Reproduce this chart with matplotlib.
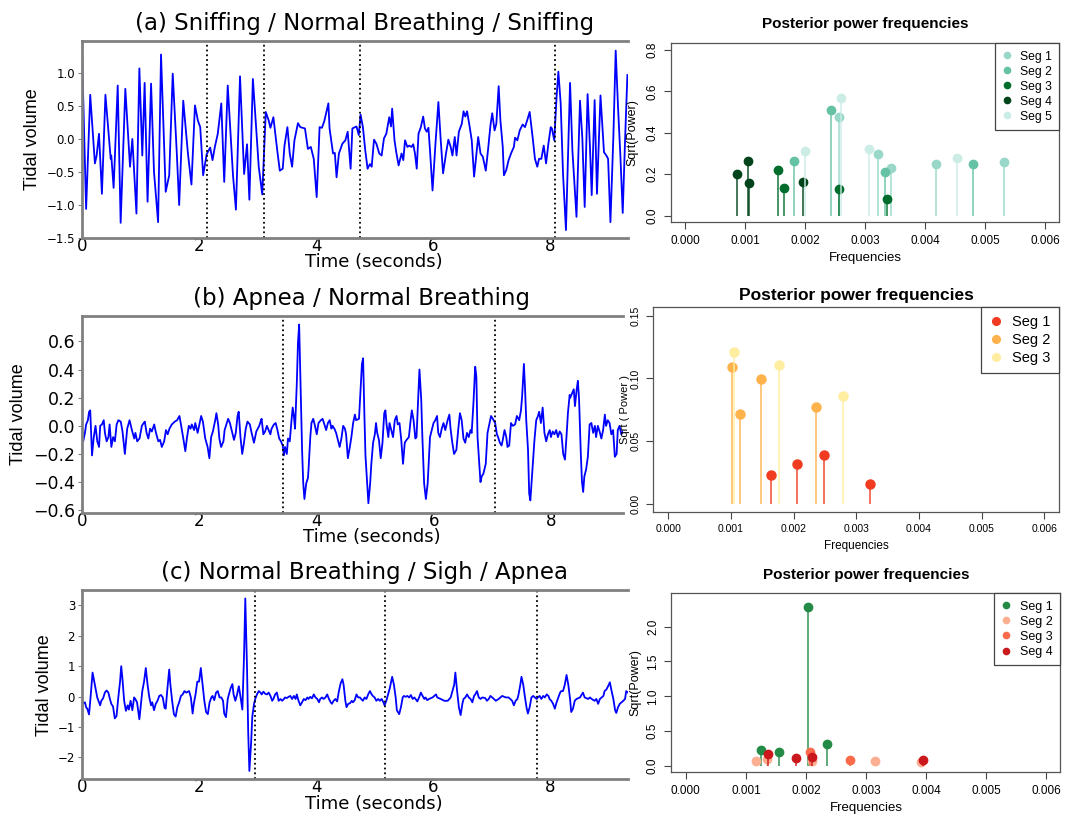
import matplotlib
matplotlib.use('Agg')
import matplotlib.pyplot as plt


# Breathing records: (time in seconds, tidal volume) at the turning points
a_trace = [
    (0.00, 1.32), (0.07, -1.06), (0.14, 0.67), (0.22, -0.37), (0.25, -0.25), (0.29, 0.08),
    (0.34, -0.83), (0.40, 0.67), (0.49, -0.30), (0.50, -0.25), (0.54, -0.74), (0.61, 0.81),
    (0.66, -1.27), (0.74, 0.76), (0.82, -0.42), (0.86, 0.00), (0.93, -1.13), (0.98, 1.07),
    (1.03, -0.25), (1.07, 0.85), (1.12, -0.95), (1.18, 0.84), (1.23, -0.50), (1.30, -1.26),
    (1.35, 1.28), (1.43, -0.80), (1.49, -0.55), (1.55, 0.99), (1.62, -0.22), (1.66, -1.00),
    (1.73, 0.58), (1.81, -0.22), (1.87, -0.69), (1.93, 0.51), (1.98, 0.28), (2.02, 0.18),
    (2.07, -0.55), (2.13, -0.23), (2.19, -0.13), (2.23, -0.32), (2.27, -0.12), (2.32, 0.08),
    (2.38, 0.54), (2.43, -0.65), (2.49, 0.81), (2.58, -0.55), (2.63, -1.07), (2.70, 0.95),
    (2.77, -0.53), (2.82, -0.08), (2.86, -0.92), (2.92, 0.91), (3.02, -0.42), (3.08, -0.84),
    (3.14, 0.41), (3.19, 0.28), (3.22, 0.17), (3.27, 0.33), (3.34, -0.20), (3.38, -0.48),
    (3.43, -0.45), (3.46, -0.10), (3.51, 0.18), (3.55, -0.22), (3.59, -0.42), (3.63, -0.02),
    (3.69, 0.24), (3.73, 0.18), (3.81, 0.16), (3.86, -0.15), (3.91, -0.12), (3.96, -0.30),
    (4.01, -0.88), (4.06, 0.18), (4.10, 0.17), (4.14, 0.27), (4.21, 0.54), (4.23, 0.16),
    (4.29, -0.22), (4.32, -0.21), (4.35, -0.58), (4.39, -0.22), (4.45, -0.07), (4.50, -0.02),
    (4.54, 0.11), (4.59, -0.45), (4.62, 0.16), (4.69, 0.19), (4.73, 0.06), (4.76, 0.37),
    (4.80, 0.18), (4.84, -0.17), (4.88, -0.45), (4.92, -0.38), (4.95, -0.42), (4.99, -0.01),
    (5.03, -0.07), (5.08, -0.22), (5.12, -0.25), (5.16, 0.01), (5.20, 0.08), (5.25, 0.33),
    (5.28, 0.19), (5.30, 0.46), (5.34, -0.02), (5.37, -0.20), (5.41, -0.40), (5.46, -0.22),
    (5.49, -0.32), (5.52, -0.02), (5.56, -0.12), (5.59, -0.10), (5.63, -0.12), (5.66, -0.08),
    (5.69, -0.22), (5.72, -0.45), (5.75, 0.08), (5.79, 0.18), (5.83, 0.34), (5.86, 0.16),
    (5.89, 0.11), (5.92, 0.17), (5.95, -0.22), (5.99, -0.78), (6.04, -0.07), (6.09, 0.56),
    (6.13, -0.02), (6.17, -0.52), (6.22, -0.22), (6.26, -0.01), (6.30, -0.12), (6.33, -0.25),
    (6.37, 0.03), (6.40, -0.25), (6.44, 0.11), (6.49, 0.23), (6.52, 0.42), (6.55, 0.34),
    (6.58, 0.42), (6.62, 0.21), (6.66, -0.02), (6.70, -0.57), (6.74, -0.22), (6.77, 0.03),
    (6.81, -0.22), (6.85, -0.27), (6.90, -0.48), (6.94, -0.15), (6.98, 0.21), (7.01, 0.39),
    (7.05, 0.13), (7.08, 0.23), (7.12, 0.80), (7.15, 0.28), (7.19, -0.12), (7.21, -0.55),
    (7.25, -0.47), (7.29, -0.32), (7.34, -0.20), (7.38, -0.12), (7.40, 0.02), (7.44, -0.02),
    (7.48, 0.13), (7.53, 0.22), (7.57, 0.18), (7.61, 0.29), (7.65, 0.41), (7.70, 0.03),
    (7.74, -0.30), (7.78, -0.42), (7.81, -0.30), (7.85, -0.30), (7.89, -0.10), (7.93, -0.37),
    (7.97, -0.07), (8.01, 0.18), (8.03, 0.16), (8.07, -0.02), (8.11, 0.64), (8.14, 1.02),
    (8.18, 0.54), (8.22, -0.53), (8.27, -1.38), (8.34, 0.85), (8.38, -0.17), (8.45, -1.18),
    (8.51, 0.58), (8.55, 0.01), (8.59, -1.03), (8.64, 0.68), (8.68, -0.12), (8.71, -0.85),
    (8.76, 0.59), (8.80, -0.83), (8.86, 0.66), (8.92, -0.20), (8.96, -0.25), (8.99, -0.30),
    (9.03, -1.26), (9.08, 0.03), (9.12, 1.34), (9.16, 0.48), (9.20, -0.25), (9.24, -1.12),
    (9.28, -0.02), (9.32, 0.97),
]

b_trace = [
    (0.00, -0.03), (0.02, -0.11), (0.05, -0.05), (0.07, 0.01), (0.10, 0.04), (0.12, 0.10),
    (0.14, 0.11), (0.17, -0.21), (0.20, -0.08), (0.23, 0.00), (0.26, -0.11), (0.29, -0.15),
    (0.31, 0.00), (0.34, 0.01), (0.37, 0.04), (0.39, -0.05), (0.42, -0.11), (0.45, -0.08),
    (0.47, 0.01), (0.50, -0.15), (0.53, -0.08), (0.56, -0.11), (0.59, 0.01), (0.62, 0.04),
    (0.66, 0.03), (0.69, -0.04), (0.73, -0.20), (0.77, -0.02), (0.81, 0.04), (0.85, -0.03),
    (0.89, -0.09), (0.91, -0.05), (0.94, -0.11), (0.98, -0.09), (1.02, 0.00), (1.05, 0.02),
    (1.07, 0.03), (1.10, -0.05), (1.13, -0.09), (1.16, -0.02), (1.19, -0.04), (1.23, 0.01),
    (1.26, -0.05), (1.30, -0.11), (1.33, -0.10), (1.36, -0.15), (1.40, -0.11), (1.43, -0.03),
    (1.46, -0.06), (1.49, -0.02), (1.53, 0.01), (1.58, 0.03), (1.62, 0.04), (1.66, 0.07),
    (1.69, 0.00), (1.73, -0.10), (1.76, -0.18), (1.79, -0.08), (1.82, 0.00), (1.85, -0.02),
    (1.87, 0.01), (1.91, -0.03), (1.93, 0.02), (1.97, -0.05), (2.00, 0.01), (2.03, 0.07),
    (2.06, 0.03), (2.10, -0.09), (2.14, -0.15), (2.17, -0.23), (2.20, -0.08), (2.23, -0.04),
    (2.27, 0.04), (2.29, 0.09), (2.32, 0.01), (2.34, -0.09), (2.37, -0.15), (2.41, -0.11),
    (2.43, -0.03), (2.46, 0.01), (2.49, 0.05), (2.52, 0.02), (2.56, -0.05), (2.59, -0.10),
    (2.62, -0.05), (2.65, 0.07), (2.67, 0.10), (2.70, -0.08), (2.73, -0.20), (2.76, -0.12),
    (2.79, -0.02), (2.82, 0.03), (2.86, 0.01), (2.89, -0.05), (2.93, -0.12), (2.97, -0.04),
    (3.02, 0.00), (3.05, 0.04), (3.06, 0.05), (3.09, -0.06), (3.12, -0.04), (3.15, 0.00),
    (3.18, -0.03), (3.21, -0.06), (3.23, -0.02), (3.27, 0.01), (3.30, 0.02), (3.33, -0.03),
    (3.36, -0.09), (3.39, -0.11), (3.42, -0.14), (3.44, -0.21), (3.46, -0.15), (3.49, -0.20),
    (3.51, -0.09), (3.54, -0.11), (3.57, 0.04), (3.59, 0.13), (3.61, 0.07), (3.63, -0.02),
    (3.66, 0.30), (3.68, 0.59), (3.70, 0.72), (3.72, 0.35), (3.75, -0.17), (3.77, -0.41),
    (3.79, -0.52), (3.82, -0.41), (3.85, -0.37), (3.86, -0.31), (3.89, -0.08), (3.91, 0.02),
    (3.94, 0.05), (3.97, 0.00), (4.00, -0.06), (4.03, 0.02), (4.07, 0.04), (4.10, 0.05),
    (4.13, 0.01), (4.16, -0.03), (4.19, 0.02), (4.22, 0.04), (4.25, -0.02), (4.27, 0.00),
    (4.30, -0.02), (4.33, -0.05), (4.36, -0.10), (4.39, -0.15), (4.42, -0.09), (4.45, 0.00),
    (4.48, -0.02), (4.50, -0.06), (4.53, -0.23), (4.56, -0.16), (4.59, -0.08), (4.62, 0.02),
    (4.65, 0.08), (4.67, 0.04), (4.72, 0.05), (4.75, 0.28), (4.77, 0.44), (4.79, 0.48),
    (4.81, 0.11), (4.83, -0.21), (4.86, -0.41), (4.88, -0.55), (4.91, -0.41), (4.93, -0.27),
    (4.96, -0.12), (4.99, -0.06), (5.01, 0.02), (5.03, -0.05), (5.06, -0.10), (5.09, -0.23),
    (5.12, -0.12), (5.15, 0.09), (5.17, 0.11), (5.19, 0.01), (5.22, -0.08), (5.24, 0.02),
    (5.27, -0.03), (5.30, -0.08), (5.33, 0.04), (5.36, 0.07), (5.38, 0.01), (5.41, 0.02),
    (5.44, -0.10), (5.47, -0.27), (5.50, -0.12), (5.53, -0.10), (5.57, -0.08), (5.60, 0.04),
    (5.62, 0.11), (5.65, 0.04), (5.68, -0.09), (5.70, -0.08), (5.73, 0.21), (5.75, 0.40),
    (5.78, 0.19), (5.80, -0.08), (5.83, -0.41), (5.86, -0.52), (5.89, -0.41), (5.91, -0.24),
    (5.93, -0.08), (5.96, -0.03), (5.99, 0.02), (6.02, 0.04), (6.05, 0.07), (6.07, -0.05),
    (6.10, -0.08), (6.13, -0.02), (6.16, 0.02), (6.19, -0.03), (6.23, 0.04), (6.26, 0.08),
    (6.28, -0.02), (6.31, -0.12), (6.34, -0.20), (6.38, -0.17), (6.41, -0.03), (6.44, 0.09),
    (6.47, 0.04), (6.50, -0.09), (6.53, -0.12), (6.56, -0.05), (6.59, -0.08), (6.62, -0.03),
    (6.64, -0.05), (6.67, 0.16), (6.70, 0.42), (6.72, 0.35), (6.74, -0.08), (6.77, -0.27),
    (6.79, -0.40), (6.81, -0.36), (6.84, -0.34), (6.88, -0.27), (6.91, -0.05), (6.94, 0.01),
    (6.97, 0.07), (7.00, 0.05), (7.04, 0.02), (7.07, -0.06), (7.09, -0.08), (7.12, -0.12),
    (7.15, -0.14), (7.17, -0.10), (7.20, -0.03), (7.23, -0.08), (7.25, -0.15), (7.28, -0.14),
    (7.31, 0.02), (7.34, 0.00), (7.38, 0.01), (7.41, 0.07), (7.45, 0.04), (7.48, 0.11),
    (7.50, 0.21), (7.53, 0.44), (7.55, 0.26), (7.57, 0.04), (7.60, -0.17), (7.62, -0.48),
    (7.64, -0.53), (7.66, -0.41), (7.69, -0.22), (7.71, -0.10), (7.74, 0.04), (7.77, 0.07),
    (7.79, 0.10), (7.82, 0.02), (7.85, 0.13), (7.88, -0.05), (7.91, -0.11), (7.94, -0.06),
    (7.97, -0.03), (7.99, -0.08), (8.02, -0.04), (8.05, -0.06), (8.08, -0.03), (8.11, -0.08),
    (8.14, -0.04), (8.17, -0.06), (8.20, -0.20), (8.23, -0.24), (8.26, -0.05), (8.28, 0.09),
    (8.31, 0.22), (8.32, 0.20), (8.35, 0.23), (8.38, 0.26), (8.40, 0.14), (8.43, 0.26),
    (8.45, 0.32), (8.47, 0.19), (8.50, -0.20), (8.52, -0.40), (8.54, -0.47), (8.56, -0.36),
    (8.59, -0.31), (8.62, -0.22), (8.65, 0.01), (8.68, 0.02), (8.71, -0.05), (8.74, 0.00),
    (8.76, -0.08), (8.79, 0.00), (8.82, -0.04), (8.85, -0.09), (8.88, -0.03), (8.91, 0.08),
    (8.93, 0.00), (8.96, 0.04), (8.99, 0.02), (9.02, -0.06), (9.05, -0.03), (9.08, -0.22),
    (9.11, -0.20), (9.13, -0.03), (9.16, 0.00), (9.19, -0.06), (9.22, -0.04),
]

c_trace = [
    (0.00, -0.16), (0.02, -0.22), (0.05, -0.19), (0.07, -0.35), (0.09, -0.40), (0.12, -0.59),
    (0.15, 0.07), (0.18, 0.79), (0.21, 0.49), (0.23, 0.28), (0.26, -0.03), (0.29, -0.19),
    (0.31, -0.29), (0.33, -0.14), (0.36, -0.06), (0.39, 0.13), (0.42, 0.20), (0.45, 0.13),
    (0.47, -0.03), (0.50, -0.24), (0.53, -0.33), (0.56, -0.72), (0.59, -0.64), (0.62, -0.03),
    (0.65, 0.49), (0.67, 1.00), (0.69, 0.60), (0.72, -0.14), (0.75, -0.47), (0.78, -0.29),
    (0.80, -0.43), (0.83, -0.14), (0.86, -0.45), (0.89, -0.03), (0.91, -0.08), (0.94, -0.19),
    (0.98, -0.75), (1.01, -0.19), (1.03, 0.18), (1.06, 0.49), (1.09, 0.94), (1.12, 0.39),
    (1.15, -0.03), (1.18, -0.29), (1.20, -0.19), (1.23, -0.45), (1.26, -0.24), (1.29, -0.14),
    (1.32, 0.02), (1.35, 0.05), (1.38, -0.03), (1.41, -0.37), (1.43, -0.40), (1.46, 0.28),
    (1.49, 0.89), (1.51, 0.39), (1.54, -0.14), (1.57, -0.58), (1.60, -0.66), (1.63, -0.35),
    (1.66, -0.19), (1.69, 0.02), (1.72, 0.07), (1.75, 0.18), (1.78, 0.13), (1.81, 0.16),
    (1.83, 0.18), (1.86, -0.03), (1.89, -0.56), (1.91, -0.24), (1.94, 0.07), (1.97, 0.49),
    (2.00, 0.49), (2.03, 0.94), (2.06, 0.39), (2.09, -0.14), (2.12, -0.51), (2.15, -0.58),
    (2.18, -0.19), (2.21, -0.03), (2.23, 0.02), (2.26, -0.12), (2.29, 0.13), (2.32, 0.18),
    (2.35, -0.03), (2.38, -0.03), (2.41, -0.14), (2.43, -0.56), (2.46, -0.68), (2.49, -0.08),
    (2.51, 0.07), (2.54, 0.28), (2.57, 0.41), (2.59, 0.07), (2.62, -0.14), (2.65, 0.07),
    (2.68, 0.34), (2.71, -0.03), (2.74, -0.43), (2.77, 1.44), (2.79, 3.23), (2.82, 0.92),
    (2.84, -1.19), (2.86, -2.45), (2.89, -1.51), (2.91, -0.66), (2.94, -0.24), (2.96, -0.08),
    (2.99, 0.07), (3.02, 0.18), (3.05, 0.13), (3.07, 0.07), (3.10, 0.16), (3.13, 0.09),
    (3.16, 0.07), (3.19, 0.13), (3.22, 0.02), (3.25, -0.14), (3.27, -0.08), (3.30, 0.07),
    (3.33, 0.13), (3.36, -0.14), (3.39, -0.08), (3.42, -0.14), (3.45, -0.08), (3.47, -0.03),
    (3.50, -0.05), (3.53, -0.01), (3.56, 0.02), (3.59, -0.08), (3.62, 0.02), (3.65, -0.08),
    (3.67, 0.07), (3.70, -0.14), (3.73, -0.29), (3.76, -0.19), (3.79, -0.08), (3.82, -0.12),
    (3.85, -0.03), (3.87, -0.08), (3.90, -0.01), (3.93, -0.06), (3.96, 0.07), (3.99, -0.03),
    (4.02, -0.08), (4.05, -0.19), (4.07, -0.08), (4.10, -0.03), (4.13, -0.08), (4.16, -0.03),
    (4.19, 0.07), (4.22, -0.08), (4.25, -0.19), (4.27, -0.24), (4.30, -0.14), (4.33, -0.08),
    (4.36, -0.16), (4.39, 0.18), (4.42, 0.44), (4.45, 0.57), (4.47, 0.39), (4.50, -0.14),
    (4.52, -0.35), (4.55, -0.24), (4.58, -0.22), (4.61, -0.14), (4.63, -0.19), (4.66, -0.12),
    (4.69, 0.07), (4.72, -0.03), (4.75, -0.03), (4.77, -0.08), (4.80, -0.14), (4.83, -0.03),
    (4.86, -0.08), (4.89, 0.07), (4.92, 0.18), (4.95, 0.07), (4.97, 0.02), (5.00, -0.03),
    (5.03, -0.14), (5.06, -0.08), (5.09, -0.14), (5.12, -0.08), (5.15, -0.19), (5.17, -0.29),
    (5.20, -0.14), (5.23, 0.07), (5.26, 0.28), (5.29, 0.55), (5.30, 0.65), (5.33, 0.39),
    (5.36, -0.03), (5.38, -0.45), (5.42, -0.58), (5.45, -0.35), (5.48, -0.03), (5.50, 0.02),
    (5.53, -0.01), (5.56, 0.02), (5.59, -0.03), (5.62, 0.05), (5.65, -0.08), (5.68, -0.03),
    (5.70, -0.08), (5.73, -0.16), (5.76, -0.03), (5.79, 0.13), (5.82, 0.02), (5.85, -0.08),
    (5.87, -0.03), (5.90, -0.12), (5.93, -0.08), (5.99, -0.03), (6.05, 0.07), (6.07, -0.03),
    (6.13, -0.08), (6.19, -0.14), (6.25, -0.14), (6.30, -0.03), (6.33, 0.18), (6.36, 0.39),
    (6.38, 0.79), (6.41, 0.18), (6.44, -0.35), (6.47, -0.61), (6.50, -0.24), (6.52, -0.08),
    (6.55, -0.03), (6.58, 0.07), (6.61, -0.03), (6.64, -0.08), (6.67, -0.19), (6.70, 0.02),
    (6.72, 0.07), (6.75, 0.18), (6.78, -0.03), (6.81, -0.08), (6.84, -0.03), (6.89, -0.05),
    (6.92, -0.14), (6.95, -0.08), (6.98, 0.02), (7.04, -0.08), (7.07, -0.14), (7.12, -0.08),
    (7.15, -0.03), (7.18, 0.02), (7.24, -0.03), (7.29, -0.03), (7.35, -0.14), (7.38, -0.29),
    (7.41, -0.14), (7.44, -0.08), (7.46, 0.07), (7.49, 0.39), (7.51, 0.65), (7.54, 0.39),
    (7.57, -0.03), (7.60, -0.40), (7.62, -0.56), (7.65, -0.35), (7.68, -0.03), (7.71, 0.02),
    (7.74, -0.03), (7.77, -0.08), (7.79, -0.03), (7.82, 0.02), (7.85, -0.08), (7.88, 0.02),
    (7.91, -0.03), (7.94, 0.07), (7.97, 0.02), (7.99, -0.08), (8.02, -0.14), (8.05, -0.24),
    (8.08, -0.40), (8.11, -0.19), (8.14, -0.03), (8.17, 0.13), (8.19, 0.18), (8.22, 0.18),
    (8.25, 0.39), (8.28, 0.71), (8.31, 0.39), (8.34, -0.08), (8.36, -0.51), (8.39, -0.40),
    (8.42, -0.14), (8.45, -0.08), (8.51, -0.03), (8.54, 0.07), (8.56, 0.13), (8.59, -0.03),
    (8.65, -0.08), (8.68, -0.03), (8.71, -0.08), (8.76, -0.14), (8.79, -0.08), (8.82, -0.24),
    (8.85, -0.08), (8.88, -0.03), (8.91, 0.02), (8.93, 0.18), (8.96, 0.23), (8.99, 0.34),
    (9.02, 0.47), (9.05, 0.18), (9.08, -0.08), (9.11, -0.45), (9.13, -0.54), (9.16, -0.35),
    (9.19, -0.24), (9.22, -0.19), (9.25, -0.14), (9.28, -0.08), (9.30, 0.18), (9.33, 0.13),
]

# change points between segments (seconds)
a_breaks = [2.14, 3.11, 4.75, 8.09]
b_breaks = [3.43, 7.04]
c_breaks = [2.96, 5.17, 7.78]

a_title = '(a) Sniffing / Normal Breathing / Sniffing'
b_title = '(b) Apnea / Normal Breathing'
c_title = '(c) Normal Breathing / Sigh / Apnea'

# posterior peak frequencies and their sqrt(power), one list per segment
a_freq = [
    [0.002572, 0.003211, 0.003439, 0.004183, 0.005322],
    [0.001817, 0.002439, 0.003339, 0.004794],
    [0.001556, 0.001650, 0.002572, 0.003361],
    [0.000861, 0.001044, 0.001061, 0.001972],
    [0.002000, 0.002606, 0.003067, 0.004539],
]
a_power = [
    [0.477, 0.297, 0.230, 0.249, 0.257],
    [0.262, 0.512, 0.212, 0.251],
    [0.222, 0.133, 0.127, 0.080],
    [0.202, 0.263, 0.159, 0.162],
    [0.312, 0.569, 0.323, 0.276],
]
a_colors = ['#99d8c9', '#66c2a4', '#006d2c', '#00441b', '#ccece6']

b_freq = [
    [0.001633, 0.002060, 0.002485, 0.003218],
    [0.001014, 0.001152, 0.001476, 0.002363],
    [0.001041, 0.001774, 0.002783],
]
b_power = [
    [0.0231, 0.0316, 0.0390, 0.0159],
    [0.1089, 0.0717, 0.0996, 0.0775],
    [0.1206, 0.1105, 0.0858],
]
b_colors = ['#f03b20', '#feb24c', '#ffeda0']

c_freq = [
    [0.001248, 0.001547, 0.002030, 0.002352],
    [0.001176, 0.001359, 0.002097, 0.003156, 0.003910],
    [0.002063, 0.002734],
    [0.001376, 0.001830, 0.002097, 0.003943],
]
c_power = [
    [0.229, 0.200, 2.281, 0.310],
    [0.076, 0.105, 0.067, 0.067, 0.062],
    [0.200, 0.095],
    [0.172, 0.110, 0.138, 0.081],
]
c_colors = ['#238b45', '#fcae91', '#fb6a4a', '#cb181d']

freq_ticks = [0.0, 0.001, 0.002, 0.003, 0.004, 0.005, 0.006]


def draw_trace(ax, trace, breaks, title, xmax, ylim, yticks, ylabels,
               ysize, label_x):
    t = [p[0] for p in trace]
    v = [p[1] for p in trace]
    ax.plot(t, v, color='#0000ff', lw=1.3)
    for b in breaks:
        ax.axvline(b, color='black', ls=':', lw=1.3)

    ax.set_xlim(0, xmax)
    ax.set_ylim(*ylim)
    ax.set_xticks([0, 2, 4, 6, 8])
    ax.set_yticks(yticks, ylabels)
    ax.tick_params(axis='x', length=0, labelsize=12, pad=-1)
    ax.tick_params(axis='y', length=3, color='#808080', labelsize=ysize, pad=2)
    ax.spines['right'].set_visible(False)
    for s in ['top', 'bottom', 'left']:
        ax.spines[s].set_color('#808080')
        ax.spines[s].set_linewidth(2)

    ax.set_title(title, fontsize=16.5, pad=8, x=0.517)
    ax.set_xlabel('Time (seconds)', fontsize=13, labelpad=-1)
    ax.xaxis.label.set_x(0.535)
    ax.set_ylabel('Tidal volume', fontsize=13,
                  family=['Liberation Sans Narrow', 'Liberation Sans'])
    ax.yaxis.set_label_coords(label_x, 0.5)


def draw_power(ax, freqs, powers, colors, ylim, yticks, ylabels, ylabel,
               label_x, title_size, title_pad, tick_size, leg_size, ms, leg_scale):
    for i, (f, p, c) in enumerate(zip(freqs, powers, colors)):
        ax.vlines(f, 0, p, color=c, lw=1.2, alpha=0.85)
        ax.plot(f, p, 'o', ls='none', color=c, ms=ms, label='Seg %d' % (i + 1))

    ax.set_xlim(-0.00024, 0.00624)
    ax.set_ylim(*ylim)
    ax.set_xticks(freq_ticks, ['%.3f' % f for f in freq_ticks])
    ax.set_yticks(yticks, ylabels)
    plt.setp(ax.get_yticklabels(), rotation=90, va='center')
    ax.tick_params(labelsize=tick_size, length=5, width=0.8, color='#444444',
                   pad=4)
    for s in ax.spines.values():
        s.set_color('#555555')
        s.set_linewidth(0.9)

    ax.set_title('Posterior power frequencies', fontsize=title_size,
                 fontweight='bold', pad=title_pad)
    ax.set_xlabel('Frequencies', fontsize=tick_size + 1, labelpad=4)
    ax.set_ylabel(ylabel, fontsize=tick_size + 0.5)
    ax.yaxis.set_label_coords(label_x, 0.5)

    leg = ax.legend(loc='upper right', borderaxespad=0, fancybox=False,
                    framealpha=1, edgecolor='#444444', fontsize=leg_size,
                    handlelength=0.8, handletextpad=0.7, labelspacing=0.25,
                    borderpad=0.6, markerscale=leg_scale)
    leg.get_frame().set_linewidth(0.9)


plt.rcParams['font.family'] = ['DejaVu Sans']
fig = plt.figure(figsize=(10.68, 8.17), dpi=100)

ax_a = fig.add_axes([0.0768, 0.7087, 0.5112, 0.2411])
draw_trace(ax_a, a_trace, a_breaks, a_title, 9.33, (-1.5, 1.485),
           [-1.5, -1.0, -0.5, 0.0, 0.5, 1.0],
           ['\u22121.5', '\u22121.0', '\u22120.5', '0.0', '0.5', '1.0'], 8.5, -0.075)

ax_b = fig.add_axes([0.0768, 0.3720, 0.5066, 0.2411])
draw_trace(ax_b, b_trace, b_breaks, b_title, 9.22, (-0.62, 0.78),
           [-0.6, -0.4, -0.2, 0.0, 0.2, 0.4, 0.6],
           ['\u22120.6', '\u22120.4', '\u22120.2', '0.0', '0.2', '0.4', '0.6'],
           12.5, -0.102)

ax_c = fig.add_axes([0.0768, 0.0460, 0.5112, 0.2315])
draw_trace(ax_c, c_trace, c_breaks, c_title, 9.33, (-2.73, 3.5),
           [-2, -1, 0, 1, 2, 3], ['\u22122', '\u22121', '0', '1', '2', '3'],
           8.5, -0.053)

plt.rcParams['font.family'] = ['Liberation Sans', 'DejaVu Sans']

ax_pa = fig.add_axes([0.6280, 0.7279, 0.3639, 0.2191])
draw_power(ax_pa, a_freq, a_power, a_colors, (-0.032, 0.832),
           [0.0, 0.2, 0.4, 0.6, 0.8], ['0.0', '0.2', '0.4', '0.6', '0.8'],
           'Sqrt(Power)', -0.084, 11, 11, 8.5, 8.7, 6, 0.75)

ax_pb = fig.add_axes([0.6117, 0.3737, 0.3801, 0.2509])
draw_power(ax_pb, b_freq, b_power, b_colors, (-0.006, 0.157),
           [0.0, 0.05, 0.10, 0.15], ['0.00', '0.05', '0.10', '0.15'],
           'Sqrt ( Power )', -0.057, 12.5, 5, 7.5, 10.5, 6.5, 0.85)

ax_pc = fig.add_axes([0.6287, 0.0550, 0.3642, 0.2191])
draw_power(ax_pc, c_freq, c_power, c_colors, (-0.085, 2.48),
           [0.0, 0.5, 1.0, 1.5, 2.0], ['0.0', '0.5', '1.0', '1.5', '2.0'],
           'Sqrt(Power)', -0.078, 11, 10, 8.5, 9, 6, 0.75)

fig.savefig('out.png', dpi=100, facecolor='white')
